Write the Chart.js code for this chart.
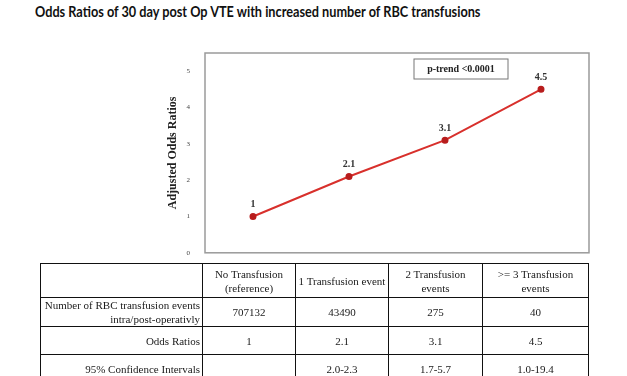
<!DOCTYPE html>
<html>
<head>
<meta charset="utf-8">
<script src="https://cdn.jsdelivr.net/npm/chart.js@4"></script>
<style>
    html, body { margin: 0; padding: 0; background: #fff; }
    #wrap { position: relative; width: 627px; height: 376px; overflow: hidden; }
    #title {
        position: absolute; left: 35px; top: 2px;
        font: bold 15.5px Lato, sans-serif; color: #111; white-space: nowrap;
        transform: scaleX(0.82); transform-origin: left top;
    }
    #chartBox { position: absolute; left: 0; top: 0; width: 627px; height: 264px; }
    #oddsTable {
        position: absolute; left: 40px; top: 263px;
        border-collapse: collapse; table-layout: fixed;
        font: 11px "Liberation Serif", serif; color: #1a1a1a;
    }
    #oddsTable td { border: 1.5px solid #111; text-align: center; padding: 0 2px; line-height: 14px; }
    #oddsTable td.rowHead { text-align: right; }
</style>
</head>
<body>
<div id="wrap">
    <div id="title">Odds Ratios of 30 day post Op VTE with increased number of RBC transfusions</div>
    <div id="chartBox"><canvas id="oddsChart" width="627" height="264"></canvas></div>
    <table id="oddsTable"></table>
</div>
<script>
// chart data
const categories = ['No Transfusion (reference)', '1 Transfusion event', '2 Transfusion events', '>= 3 Transfusion events'];
const oddsRatios = [1, 2.1, 3.1, 4.5];
const yTicks = [0, 1, 2, 3, 4, 5];

// table data
const headerLabels = [['No Transfusion', '(reference)'], ['1 Transfusion event'], ['2 Transfusion', 'events'], ['>= 3 Transfusion', 'events']];
const eventCounts = ['707132', '43490', '275', '40'];
const ciLabels = ['', '2.0-2.3', '1.7-5.7', '1.0-19.4'];
const rowLabels = [['Number of RBC transfusion events', 'intra/post-operativly'], ['Odds Ratios'], ['95% Confidence Intervals']];

// build the table below the chart
const colWidths = [162, 93, 93, 94, 106];
const rowHeights = [34, 29, 28, 28];
const table = document.getElementById('oddsTable');
let html = '<colgroup>' + colWidths.map(w => `<col style="width:${w}px">`).join('') + '</colgroup>';
const rows = [
    [''].concat(headerLabels.map(l => l.join('<br>'))),
    [rowLabels[0].join('<br>')].concat(eventCounts),
    [rowLabels[1][0]].concat(oddsRatios.map(String)),
    [rowLabels[2][0]].concat(ciLabels)
];
rows.forEach((r, i) => {
    html += `<tr style="height:${rowHeights[i]}px">` + r.map((c, j) =>
        `<td class="${j === 0 ? 'rowHead' : ''}">${c.replace(/>=/g, '&gt;=')}</td>`).join('') + '</tr>';
});
table.innerHTML = html;

// frame around the plot area + p-trend box
const framePlugin = {
    id: 'frame',
    afterDraw(chart) {
        const a = chart.chartArea;
        const ctx = chart.ctx;
        ctx.save();
        ctx.strokeStyle = '#9a9a9a';
        ctx.lineWidth = 1.5;
        ctx.strokeRect(a.left, a.top, a.right - a.left, a.bottom - a.top);
        // p-trend box
        const bx = a.left + 209, by = a.top + 6, bw = 94, bh = 20;
        ctx.strokeStyle = '#777';
        ctx.lineWidth = 1;
        ctx.strokeRect(bx, by, bw, bh);
        ctx.fillStyle = '#222';
        ctx.font = 'bold 10px "Liberation Serif", serif';
        ctx.textAlign = 'center';
        ctx.textBaseline = 'middle';
        ctx.fillText('p-trend <0.0001', bx + bw / 2, by + bh / 2);
        ctx.restore();
    }
};

// value labels above the points
const labelPlugin = {
    id: 'pointLabels',
    afterDatasetsDraw(chart) {
        const ctx = chart.ctx;
        const meta = chart.getDatasetMeta(0);
        ctx.save();
        ctx.fillStyle = '#333';
        ctx.font = 'bold 10px "Liberation Serif", serif';
        ctx.textAlign = 'center';
        ctx.textBaseline = 'middle';
        meta.data.forEach((pt, i) => {
            ctx.fillText(String(oddsRatios[i]), pt.x, pt.y - 12);
        });
        ctx.restore();
    }
};

const ctx = document.getElementById('oddsChart').getContext('2d');
const myChart = new Chart(ctx, {
    type: 'line',
    data: {
        labels: categories,
        datasets: [{
            data: oddsRatios,
            borderColor: '#d8302c',
            borderWidth: 2,
            pointBackgroundColor: '#b81d1d',
            pointBorderColor: '#b81d1d',
            pointRadius: 2.5,
            tension: 0
        }]
    },
    options: {
        responsive: false,
        animation: false,
        layout: { autoPadding: false, padding: { left: 166, right: 38, top: 53, bottom: 0 } },
        plugins: {
            legend: { display: false },
            tooltip: { enabled: false }
        },
        scales: {
            x: {
                type: 'category',
                offset: true,
                display: false
            },
            y: {
                min: 0,
                max: 5.5,
                grid: { display: false },
                border: { display: false },
                afterBuildTicks: scale => { scale.ticks = yTicks.map(v => ({ value: v })); },
                afterFit: scale => { scale.width = 39; },
                ticks: {
                    padding: 7,
                    color: '#444',
                    font: { family: 'Liberation Serif', size: 7 }
                },
                title: {
                    display: true,
                    text: 'Adjusted Odds Ratios',
                    color: '#222',
                    padding: 0,
                    font: { family: 'Liberation Serif', size: 12, weight: 'bold' }
                }
            }
        }
    },
    plugins: [framePlugin, labelPlugin]
});
</script>
</body>
</html>
